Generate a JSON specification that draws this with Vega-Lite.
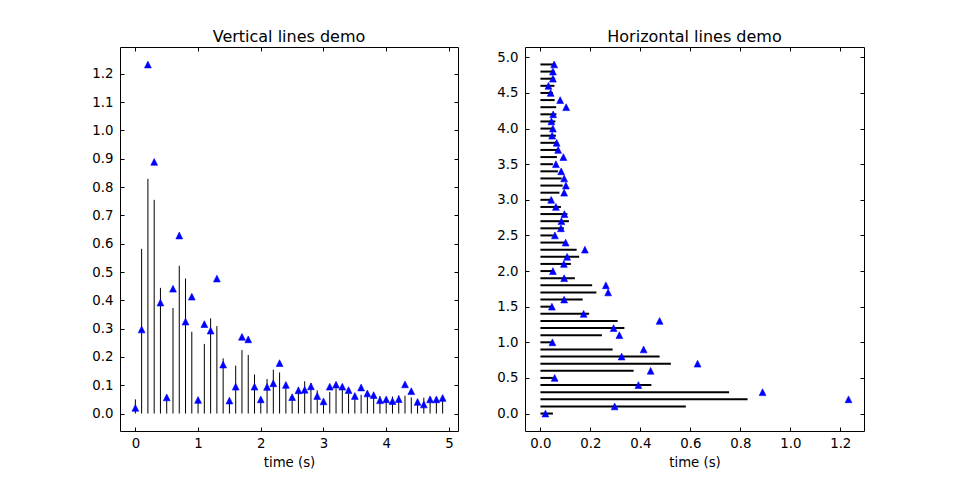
{
  "$schema": "https://vega.github.io/schema/vega-lite/v6.json",
  "background": "white",
  "padding": {"left": 91, "top": 28, "right": 5, "bottom": 5},
  "spacing": 37,
  "config": {
    "font": "DejaVu Sans",
    "view": {"stroke": "black", "strokeWidth": 1},
    "axis": {
      "domain": false, "grid": false, "tickColor": "black", "tickSize": -4, "tickWidth": 1,
      "labelFont": "DejaVu Sans", "labelFontSize": 13.3, "labelColor": "black", "labelFlush": false, "labelOverlap": false,
      "titleFont": "DejaVu Sans", "titleFontSize": 13.3, "titleFontWeight": "normal", "titleColor": "black"
    },
    "title": {"font": "DejaVu Sans", "fontSize": 16, "fontWeight": "normal", "color": "black", "offset": 2}
  },
  "datasets": {
    "d": [
      {"t": 0.0, "s": 0.05, "v": 0.02},
      {"t": 0.1, "s": 0.582, "v": 0.297},
      {"t": 0.2, "s": 0.829, "v": 1.233},
      {"t": 0.3, "s": 0.755, "v": 0.889},
      {"t": 0.4, "s": 0.444, "v": 0.392},
      {"t": 0.5, "s": 0.05, "v": 0.057},
      {"t": 0.6, "s": 0.373, "v": 0.441},
      {"t": 0.7, "s": 0.522, "v": 0.629},
      {"t": 0.8, "s": 0.477, "v": 0.325},
      {"t": 0.9, "s": 0.289, "v": 0.413},
      {"t": 1.0, "s": 0.05, "v": 0.048},
      {"t": 1.1, "s": 0.246, "v": 0.316},
      {"t": 1.2, "s": 0.336, "v": 0.293},
      {"t": 1.3, "s": 0.309, "v": 0.477},
      {"t": 1.4, "s": 0.195, "v": 0.173},
      {"t": 1.5, "s": 0.05, "v": 0.046},
      {"t": 1.6, "s": 0.169, "v": 0.095},
      {"t": 1.7, "s": 0.224, "v": 0.271},
      {"t": 1.8, "s": 0.207, "v": 0.262},
      {"t": 1.9, "s": 0.138, "v": 0.095},
      {"t": 2.0, "s": 0.05, "v": 0.05},
      {"t": 2.1, "s": 0.122, "v": 0.094},
      {"t": 2.2, "s": 0.155, "v": 0.107},
      {"t": 2.3, "s": 0.145, "v": 0.178},
      {"t": 2.4, "s": 0.103, "v": 0.101},
      {"t": 2.5, "s": 0.05, "v": 0.058},
      {"t": 2.6, "s": 0.094, "v": 0.082},
      {"t": 2.7, "s": 0.114, "v": 0.084},
      {"t": 2.8, "s": 0.108, "v": 0.096},
      {"t": 2.9, "s": 0.082, "v": 0.062},
      {"t": 3.0, "s": 0.05, "v": 0.043},
      {"t": 3.1, "s": 0.076, "v": 0.095},
      {"t": 3.2, "s": 0.089, "v": 0.102},
      {"t": 3.3, "s": 0.085, "v": 0.095},
      {"t": 3.4, "s": 0.070, "v": 0.083},
      {"t": 3.5, "s": 0.05, "v": 0.062},
      {"t": 3.6, "s": 0.066, "v": 0.092},
      {"t": 3.7, "s": 0.073, "v": 0.071},
      {"t": 3.8, "s": 0.071, "v": 0.065},
      {"t": 3.9, "s": 0.062, "v": 0.047},
      {"t": 4.0, "s": 0.05, "v": 0.05},
      {"t": 4.1, "s": 0.060, "v": 0.044},
      {"t": 4.2, "s": 0.064, "v": 0.051},
      {"t": 4.3, "s": 0.063, "v": 0.103},
      {"t": 4.4, "s": 0.057, "v": 0.079},
      {"t": 4.5, "s": 0.05, "v": 0.041},
      {"t": 4.6, "s": 0.056, "v": 0.032},
      {"t": 4.7, "s": 0.059, "v": 0.05},
      {"t": 4.8, "s": 0.058, "v": 0.05},
      {"t": 4.9, "s": 0.054, "v": 0.055}
    ]
  },
  "hconcat": [
    {
      "title": "Vertical lines demo",
      "width": 338, "height": 384,
      "data": {"name": "d"},
      "resolve": {"axis": {"x": "independent", "y": "independent"}},
      "layer": [
        {
          "mark": {"type": "rule", "color": "black", "strokeWidth": 1},
          "encoding": {
            "x": {"field": "t", "type": "quantitative", "scale": {"domain": [-0.245, 5.145], "nice": false, "zero": false},
                  "axis": {"orient": "bottom", "title": "time (s)", "values": [0, 1, 2, 3, 4, 5], "format": "d", "labelPadding": 9, "titlePadding": 6}},
            "y": {"field": "s", "type": "quantitative", "scale": {"domain": [-0.0617, 1.295], "nice": false, "zero": false},
                  "axis": {"orient": "left", "title": null, "values": [0, 0.1, 0.2, 0.3, 0.4, 0.5, 0.6, 0.7, 0.8, 0.9, 1.0, 1.1, 1.2], "format": ".1f", "labelPadding": 11}},
            "y2": {"datum": 0}
          }
        },
        {
          "mark": {"type": "point", "shape": "M0,-1L1,1L-1,1Z", "filled": true, "color": "#0000ff", "size": 46, "opacity": 1, "stroke": "#0000ff", "strokeWidth": 0.6},
          "encoding": {
            "x": {"field": "t", "type": "quantitative", "axis": {"orient": "top", "title": null, "labels": false, "values": [0, 1, 2, 3, 4, 5]}},
            "y": {"field": "v", "type": "quantitative", "axis": {"orient": "right", "title": null, "labels": false, "values": [0, 0.1, 0.2, 0.3, 0.4, 0.5, 0.6, 0.7, 0.8, 0.9, 1.0, 1.1, 1.2]}}
          }
        }
      ]
    },
    {
      "title": "Horizontal lines demo",
      "width": 339, "height": 384,
      "data": {"name": "d"},
      "resolve": {"axis": {"x": "independent", "y": "independent"}},
      "layer": [
        {
          "mark": {"type": "rule", "color": "black", "strokeWidth": 2},
          "encoding": {
            "y": {"field": "t", "type": "quantitative", "scale": {"domain": [-0.245, 5.145], "nice": false, "zero": false},
                  "axis": {"orient": "left", "title": null, "values": [0, 0.5, 1, 1.5, 2, 2.5, 3, 3.5, 4, 4.5, 5], "format": ".1f", "labelPadding": 11}},
            "x": {"field": "s", "type": "quantitative", "scale": {"domain": [-0.0617, 1.295], "nice": false, "zero": false},
                  "axis": {"orient": "bottom", "title": "time (s)", "values": [0, 0.2, 0.4, 0.6, 0.8, 1.0, 1.2], "format": ".1f", "labelPadding": 9, "titlePadding": 6}},
            "x2": {"datum": 0}
          }
        },
        {
          "mark": {"type": "point", "shape": "M0,-1L1,1L-1,1Z", "filled": true, "color": "#0000ff", "size": 46, "opacity": 1, "stroke": "#0000ff", "strokeWidth": 0.6},
          "encoding": {
            "y": {"field": "t", "type": "quantitative", "axis": {"orient": "right", "title": null, "labels": false, "values": [0, 0.5, 1, 1.5, 2, 2.5, 3, 3.5, 4, 4.5, 5]}},
            "x": {"field": "v", "type": "quantitative", "axis": {"orient": "top", "title": null, "labels": false, "values": [0, 0.2, 0.4, 0.6, 0.8, 1.0, 1.2]}}
          }
        }
      ]
    }
  ]
}
